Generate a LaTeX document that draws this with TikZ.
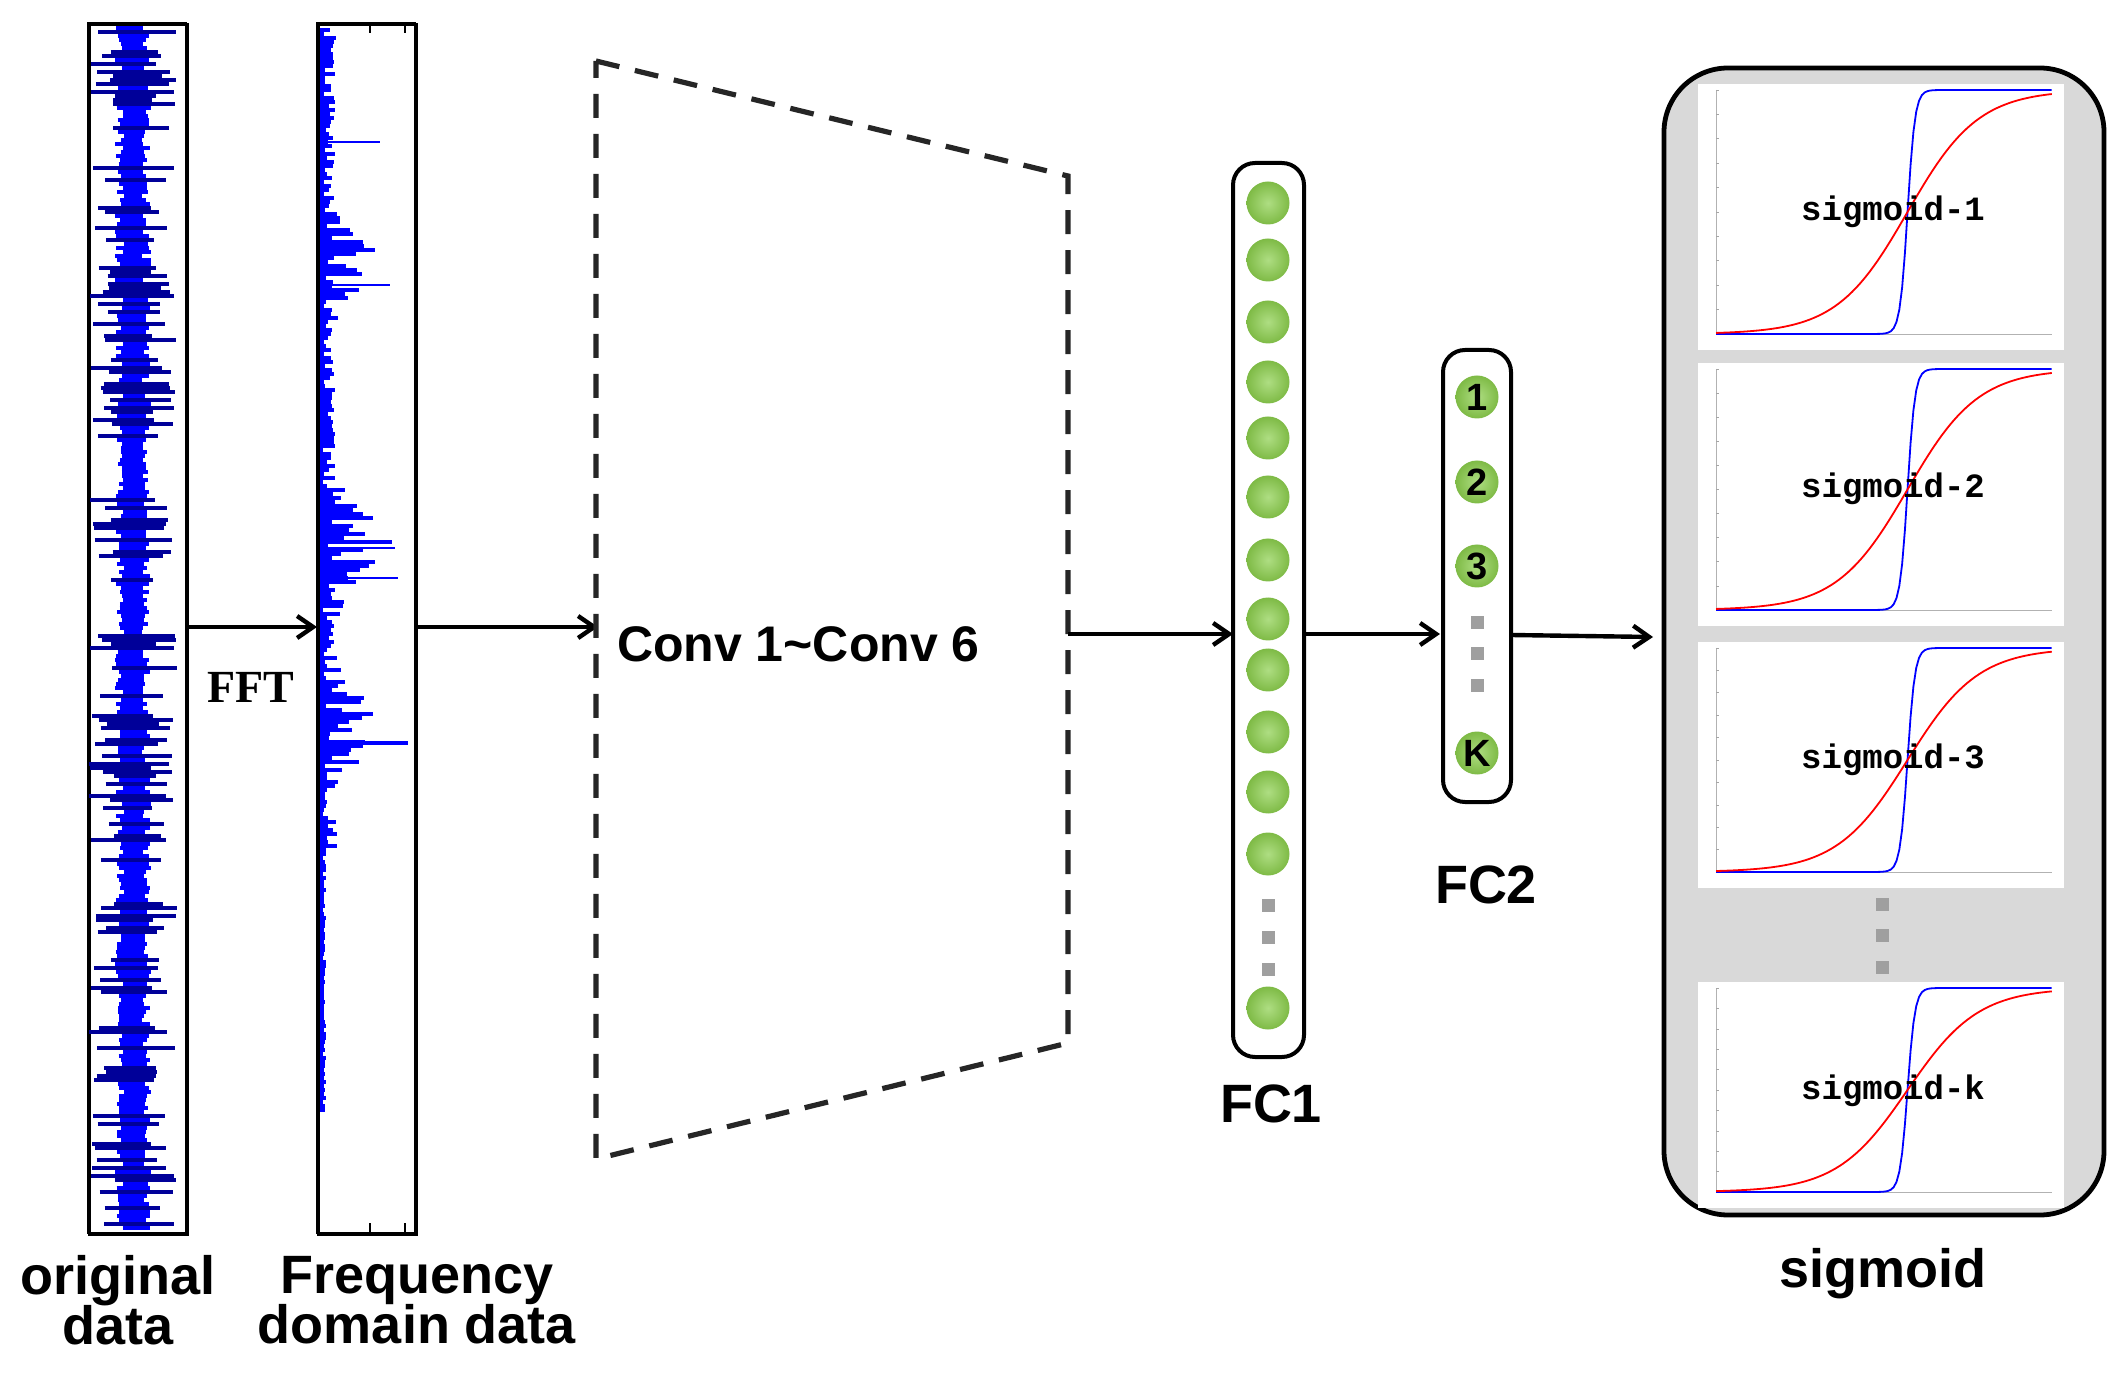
\documentclass[tikz,border=0pt]{standalone}
\usepackage{fontspec}
\setmainfont{Liberation Sans}
\newfontfamily\serifb{Liberation Serif}
\newfontfamily\monob{Liberation Mono}
\usetikzlibrary{arrows.meta}
\definecolor{neug}{HTML}{8CCF4D}
\begin{document}
\begin{tikzpicture}[x=0.5pt,y=-0.5pt,
  box/.style={draw=black,line width=1.4pt},
  rbox/.style={draw=black,line width=2pt,rounded corners=11pt},
  arr/.style={-{Straight Barb[length=8pt,width=11pt]},line width=2.2pt},
  neu/.style={circle,inner sep=0pt,minimum size=21.5pt,inner color=neug!70!white,outer color=neug!90!black},
  dot/.style={fill=gray!75,minimum size=6.5pt,inner sep=0pt},
  lab/.style={font=\bfseries\fontsize{27}{29}\selectfont,align=center},
  sig/.style={font=\monob\bfseries\fontsize{17}{18}\selectfont}]
\useasboundingbox (0,0) rectangle (2114,1384);
% original data
\node[box,minimum width=49pt,minimum height=605pt,anchor=north west] (orig) at (88,23) {};
\pgfmathsetseed{7}
\foreach \i in {0,...,300}{
  \pgfmathsetmacro{\yy}{28+\i*4}
  \pgfmathsetmacro{\a}{9+rnd*9}
  \pgfmathsetmacro{\b}{9+rnd*9}
  \draw[blue,line width=2pt] (133-\a,\yy) -- (133+\b,\yy);
  \pgfmathsetmacro{\r}{rnd}
  \ifdim\r pt>0.62pt
    \pgfmathsetmacro{\c}{18+rnd*26}
    \pgfmathsetmacro{\d}{18+rnd*26}
    \draw[blue!60!black,line width=1.6pt] (133-\c,\yy) -- (133+\d,\yy);
  \fi
}
\draw[box,fill=none] (88,23) rectangle (186,1233);
% frequency data
\node[box,minimum width=49pt,minimum height=605pt,anchor=north west] (freq) at (317,23) {};
\foreach \i in {0,...,270}{
  \pgfmathsetmacro{\yy}{30+\i*4}
  \pgfmathsetmacro{\ga}{min(((\yy-265)/30)^2,20)}
  \pgfmathsetmacro{\gb}{min(((\yy-545)/40)^2,20)}
  \pgfmathsetmacro{\gc}{min(((\yy-730)/35)^2,20)}
  \pgfmathsetmacro{\env}{(\yy<850?14:3)+55*exp(-\ga)+60*exp(-\gb)+70*exp(-\gc)}
  \pgfmathsetmacro{\L}{3+\env*rnd}
  \draw[blue,line width=1.8pt] (320,\yy) -- (320+\L,\yy);
}
\draw[blue,line width=1pt] (320,142) -- (380,142);
\draw[blue,line width=1.3pt] (320,285) -- (390,285);
\draw[blue,line width=1.3pt] (320,548) -- (395,548);
\draw[blue,line width=1.3pt] (320,578) -- (398,578);
\draw[blue,line width=2pt] (320,743) -- (408,743);
\draw[box,fill=none] (317,23) rectangle (415,1233);
\foreach \x in {370,405}{\draw[line width=0.8pt] (\x,23) -- (\x,33); \draw[line width=0.8pt] (\x,1233) -- (\x,1223);}
% arrows 1,2
\draw[arr] (orig.east |- 0,627) -- (freq.west |- 0,627);
\node[font=\serifb\bfseries\fontsize{23}{25}\selectfont] (fft) at (251,687) {FFT};
\coordinate (tl) at (596,61); \coordinate (tr) at (1068,176);
\coordinate (br) at (1068,1043); \coordinate (bl) at (596,1159);
\draw[arr] (freq.east |- 0,627) -- (598,627);
\draw[line width=2.6pt,dash pattern=on 12pt off 8pt,color=black!85] (tl) -- (tr) -- (br) -- (bl) -- cycle;
\node[anchor=west,font=\bfseries\fontsize{25}{27}\selectfont] (conv) at (610,644) {Conv 1\textasciitilde Conv 6};
% FC1
\draw[rbox] (1233,163) rectangle (1304,1057);
\foreach \y [count=\k] in {203,260,322,382,438,497,560,619,670,732,792,854,1008}{\node[neu] (n\k) at (1268,\y) {};}
\foreach \y in {905,937,969}{\node[dot] at (1268,\y) {};}
\node[lab] (fc1l) at (1271,1104) {FC1};
\draw[arr] (1068,634) -- (1233,634);
% FC2
\draw[rbox] (1443,350) rectangle (1511,802);
\foreach \y/\t in {397/1,482/2,566/3,753/K}{\node[neu,font=\bfseries\fontsize{19}{20}\selectfont] (m\t) at (1477,\y) {\t};}
\foreach \y in {623,654,686}{\node[dot] at (1477,\y) {};}
\node[lab] (fc2l) at (1486,885) {FC2};
\draw[arr] (1304,634) -- (1440,634);
\draw[arr] (1511,635) -- (1653,637);
% sigmoid panel
\draw[line width=2.4pt,fill=gray!30,rounded corners=32pt] (1664,68) rectangle (2104,1215);
\newcommand{\sigpl}[5]{%
  \fill[white] (#1,#2) rectangle (#3,#4);
  \pgfmathsetmacro{\ax}{#1+18}\pgfmathsetmacro{\bx}{#3-12}
  \pgfmathsetmacro{\ay}{#2+6}\pgfmathsetmacro{\by}{#4-16}
  \draw[gray!60,line width=0.3pt] (\ax,\ay) -- (\ax,\by) -- (\bx,\by);
  \foreach \j in {0,...,10}{\draw[gray!70,line width=0.3pt] (\ax,{\by-\j*(\by-\ay)/10}) -- ({\ax+3},{\by-\j*(\by-\ay)/10});}
  \draw[blue,line width=0.9pt] plot[domain=0:1,samples=120,variable=\s] ({\ax+\s*(\bx-\ax)},{\by-(\by-\ay)/(1+exp(-max(min((\s-0.57)*90,8),-8)))});
  \draw[red,line width=0.9pt] plot[domain=0:1,samples=80,variable=\s] ({\ax+\s*(\bx-\ax)},{\by-(\by-\ay)/(1+exp(-(\s-0.57)*9.5))});
  \node[sig] at ({(#1+#3)/2+12},{#2+0.48*(#4-#2)}) {#5};}
\sigpl{1698}{84}{2064}{350}{sigmoid-1}
\sigpl{1698}{363}{2064}{626}{sigmoid-2}
\sigpl{1698}{642}{2064}{888}{sigmoid-3}
\sigpl{1698}{982}{2064}{1208}{sigmoid-k}
\foreach \y in {904,935,967}{\node[dot] at (1882,\y) {};}
\node[lab] (sigl) at (1883,1274) {sigmoid};
\node[lab] (origl) at (118,1300) {original\\[-4pt]data};
\node[lab] (freql) at (417,1300) {Frequency\\[-4pt]domain data};
\end{tikzpicture}
\end{document}
